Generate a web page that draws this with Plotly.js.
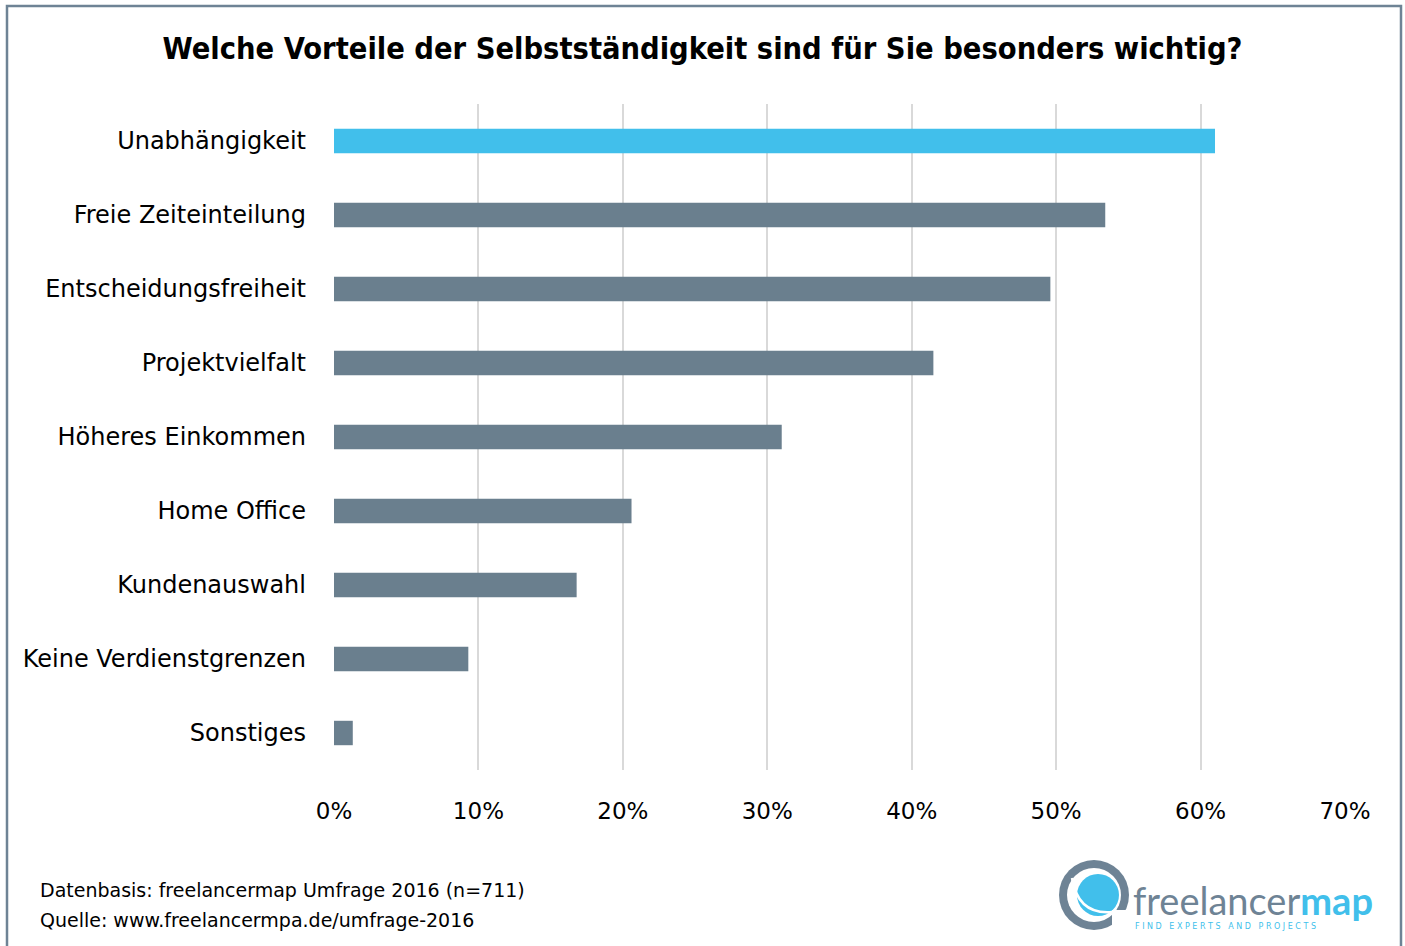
<!DOCTYPE html>
<html><head><meta charset="utf-8">
<script src="https://cdn.plot.ly/plotly-3.0.1.min.js"></script>
<style>html,body{margin:0;padding:0;background:#fff}#chart{width:1405px;height:946px}</style>
</head><body><div id="chart"></div>
<script>
const categories = ["Unabhängigkeit","Freie Zeiteinteilung","Entscheidungsfreiheit","Projektvielfalt","Höheres Einkommen","Home Office","Kundenauswahl","Keine Verdienstgrenzen","Sonstiges"];
const values = [61.0, 53.4, 49.6, 41.5, 31.0, 20.6, 16.8, 9.3, 1.3];
const tickValues = [0,10,20,30,40,50,60,70];
const tickLabels = ["0%","10%","20%","30%","40%","50%","60%","70%"];
const title = "Welche Vorteile der Selbstständigkeit sind für Sie besonders wichtig?";
const footer1 = "Datenbasis: freelancermap Umfrage 2016 (n=711)";
const footer2 = "Quelle: www.freelancermpa.de/umfrage-2016";

const BLUE = "#41BFEB", GRAY = "#6A7F8E", FRAME = "#6E8395";
const colors = categories.map((c,i)=> i===0 ? BLUE : GRAY);
const font = "'DejaVu Sans', sans-serif";
const titleFont = "'Liberation Sans Narrow', 'DejaVu Sans Condensed', 'DejaVu Sans', sans-serif";

const trace = {
  type: "bar", orientation: "h",
  y: categories, x: values,
  marker: {color: colors},
  width: 0.33,
  hoverinfo: "none"
};

const layout = {
  width: 1405, height: 946,
  paper_bgcolor: "#fff", plot_bgcolor: "#fff",
  margin: {l: 334, r: 60, t: 104, b: 176},
  showlegend: false,
  title: {text: "<b>" + title + "</b>", x: 0.5, xanchor: "center", y: 0.949, yanchor: "middle",
          font: {family: titleFont, size: 30.5, color: "#000"}},
  xaxis: {range: [0, 70], tickvals: tickValues, ticktext: tickLabels,
          showgrid: true, gridcolor: "#D9D9D9", gridwidth: 2,
          zeroline: false, showline: false, ticks: "",
          ticklabelstandoff: 25,
          tickfont: {family: font, size: 23, color: "#000"}, fixedrange: true},
  yaxis: {autorange: "reversed", showgrid: false, zeroline: false, showline: false,
          ticks: "", ticklabelstandoff: 27,
          tickfont: {family: font, size: 24, color: "#000"}, fixedrange: true},
  shapes: [
    {type: "rect", xref: "paper", yref: "paper", x0: -327/1011, x1: 1+56/1011, y0: -176/666 - 0.05, y1: 1+98/666,
     line: {color: FRAME, width: 2.5}, fillcolor: "rgba(0,0,0,0)", layer: "below"},
    // logo
    {type: "circle", xref: "paper", yref: "paper",
     x0: (1059-334)/1011, x1: (1129-334)/1011, y0: -(930-770)/666, y1: -(860-770)/666,
     fillcolor: FRAME, line: {width: 0}},
    {type: "circle", xref: "paper", yref: "paper",
     x0: (1067-334)/1011, x1: (1121-334)/1011, y0: -(922-770)/666, y1: -(868-770)/666,
     fillcolor: "#fff", line: {width: 0}},
    {type: "circle", xref: "paper", yref: "paper",
     x0: (1077-334)/1011, x1: (1119-334)/1011, y0: -(916-770)/666, y1: -(874-770)/666,
     fillcolor: BLUE, line: {width: 0}},
    {type: "path", xref: "paper", yref: "paper",
     path: "M " + ((1072-334)/1011) + "," + (-(878-770)/666) + " Q " + ((1078-334)/1011) + "," + (-(915-770)/666) + " " + ((1112-334)/1011) + "," + (-(912-770)/666),
     line: {color: "#fff", width: 2.5}},
    {type: "rect", xref: "paper", yref: "paper",
     x0: (1112-334)/1011, x1: (1130-334)/1011, y0: -(932-770)/666, y1: -(910-770)/666,
     fillcolor: "#fff", line: {width: 0}}
  ],
  annotations: [
    {text: footer1, xref: "paper", yref: "paper", x: (38-334)/1011, y: -(890-770)/666,
     xanchor: "left", yanchor: "middle", showarrow: false, font: {family: font, size: 19, color: "#000"}},
    {text: footer2, xref: "paper", yref: "paper", x: (38-334)/1011, y: -(920-770)/666,
     xanchor: "left", yanchor: "middle", showarrow: false, font: {family: font, size: 19, color: "#000"}},
    {text: "<span style='color:" + FRAME + "'>freelancer</span><b style='color:" + BLUE + "'>map</b>",
     xref: "paper", yref: "paper", x: (1131-334)/1011, y: -(900-770)/666,
     xanchor: "left", yanchor: "middle", showarrow: false, font: {family: "Lato, 'Open Sans', sans-serif", size: 38}},
    {text: "F I N D &nbsp; E X P E R T S &nbsp; A N D &nbsp; P R O J E C T S",
     xref: "paper", yref: "paper", x: (1133-334)/1011, y: -(926-770)/666,
     xanchor: "left", yanchor: "middle", showarrow: false, font: {family: "'DejaVu Sans', sans-serif", size: 8, color: BLUE}}
  ]
};

Plotly.newPlot("chart", [trace], layout, {displayModeBar: false, staticPlot: true});
</script></body></html>
